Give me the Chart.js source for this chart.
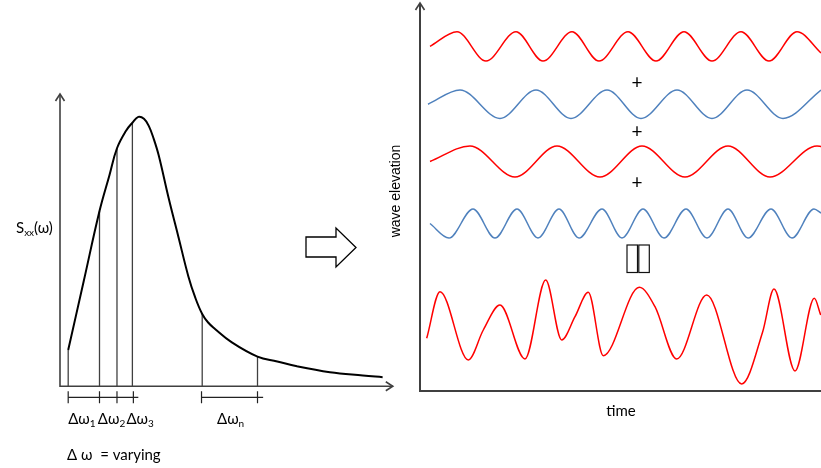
<!DOCTYPE html>
<html>
<head>
<meta charset="utf-8">
<title>Spectrum to wave elevation</title>
<script src="https://cdn.jsdelivr.net/npm/chart.js@4.4.1/dist/chart.umd.min.js"></script>
<style>
  body { margin: 0; background: #fff; }
  #wrap { position: relative; width: 821px; height: 468px; overflow: hidden; }
  canvas { position: absolute; top: 0; }
  #spectrum { left: 0; }
  #waves { left: 370px; }
</style>
</head>
<body>
<div id="wrap">
  <canvas id="spectrum" width="400" height="468"></canvas>
  <canvas id="waves" width="451" height="468"></canvas>
</div>
<script>
// Spectrum S_xx(omega)
const spectrumOmega   = [0.083, 0.24, 0.40, 0.50, 0.577, 0.667, 0.733, 0.793, 0.85, 0.90, 0.95, 1.00, 1.10, 1.20, 1.30, 1.37, 1.44, 1.50, 1.567, 1.733, 2.00, 2.20, 2.40, 2.733, 3.067, 3.267];
const spectrumDensity = [0.37, 1.07, 1.787, 2.15, 2.427, 2.603, 2.687, 2.747, 2.727, 2.653, 2.52, 2.353, 1.92, 1.52, 1.12, 0.903, 0.737, 0.65, 0.587, 0.453, 0.303, 0.253, 0.203, 0.143, 0.11, 0.093];

// band edges (vertical lines) and the curve height at each
const bandEdges = [0.083, 0.40, 0.577, 0.733, 1.44, 2.00];
const bandTops  = [0.37, 1.787, 2.427, 2.687, 0.737, 0.303];

// delta-omega brackets below the axis
const bracketLowOmega  = [0.083, 0.40, 0.577, 0.743, 0.793];
const bracketHighOmega = [1.433, 2.0, 2.057];
const bandSubs = ['1', '2', '3', 'n'];

// wave components (time, elevation about each track's mean)
const wave1Time = [1.0, 3.7, 6.6, 9.6, 12.3, 15.2, 17.9, 20.8, 23.6, 26.4, 29.2, 32.1, 34.9, 37.7, 40.1];
const wave1Elev = [0.0, 1.46, -1.47, 1.46, -1.47, 1.46, -1.47, 1.46, -1.47, 1.46, -1.47, 1.46, -1.47, 1.46, -0.67];

const wave2Time = [0.8, 4.0, 8.0, 11.6, 15.1, 18.7, 22.1, 25.7, 29.2, 32.7, 36.3, 40.1];
const wave2Elev = [0.0, 1.42, -1.42, 1.42, -1.42, 1.42, -1.42, 1.42, -1.42, 1.42, -1.42, 1.42];

const wave3Time = [1.0, 5.0, 9.5, 13.7, 18.0, 22.2, 26.5, 30.8, 35.0, 39.7, 40.1];
const wave3Elev = [0.0, 1.55, -1.55, 1.55, -1.55, 1.55, -1.55, 1.55, -1.55, 1.55, 1.5];

const wave4Time = [1.0, 2.9, 5.3, 7.5, 9.7, 11.8, 13.9, 15.9, 18.2, 20.2, 22.3, 24.4, 26.6, 28.7, 30.8, 32.8, 35.1, 37.2, 39.4, 40.1];
const wave4Elev = [0.0, -1.45, 1.45, -1.45, 1.45, -1.45, 1.45, -1.45, 1.45, -1.45, 1.45, -1.45, 1.45, -1.45, 1.45, -1.45, 1.45, -1.45, 1.45, 1.05];

// resulting irregular sea
const sumTime = [0.67, 2.0, 4.83, 6.33, 8.0, 10.5, 12.57, 14.17, 15.5, 16.83, 18.33, 21.93, 23.5, 25.67, 28.67, 32.17, 34.27, 35.4, 37.5, 39.43, 40.07];
const sumElev = [-0.63, 4.03, -2.8, 0.2, 2.7, -2.7, 5.2, -0.8, 1.53, 3.97, -2.37, 4.47, 2.53, -2.7, 3.7, -5.2, 0.03, 4.3, -3.9, 3.37, 1.7];

// layout: where each track sits on the elevation axis
const trackOffsets = [34.47, 28.68, 22.95, 16.75, 5.9];

const RED = '#ff0000';
const BLUE = '#4f81bd';
const AXIS = '#404040';
const LABEL_FONT = 'Lato, "Open Sans", sans-serif';

// draws "base" followed by a small lowered subscript, returns end x
function drawSub(ctx, base, sub, x, y, size) {
  ctx.font = size + 'px ' + LABEL_FONT;
  ctx.fillText(base, x, y);
  x += ctx.measureText(base).width;
  const small = Math.round(size * 0.68);
  ctx.font = small + 'px ' + LABEL_FONT;
  ctx.fillText(sub, x, y + 3);
  return x + ctx.measureText(sub).width;
}

function chevronUp(ctx, x, y) {
  ctx.beginPath();
  ctx.moveTo(x - 4.5, y + 7); ctx.lineTo(x, y); ctx.lineTo(x + 4.5, y + 7);
  ctx.stroke();
}

function pts(xs, ys, off) {
  return xs.map((v, i) => ({ x: v, y: ys[i] + (off || 0) }));
}

// ---------- LEFT: spectrum ----------
const spectrumDecor = {
  id: 'spectrumDecor',
  afterDatasetsDraw(chart) {
    const { ctx, chartArea, scales: { x, y } } = chart;
    const x0 = x.getPixelForValue(0);
    const y0 = y.getPixelForValue(0);
    ctx.save();
    ctx.strokeStyle = AXIS;
    ctx.lineWidth = 1.6;
    ctx.beginPath();
    ctx.moveTo(x0, chartArea.top); ctx.lineTo(x0, y0); ctx.lineTo(chartArea.right, y0);
    ctx.stroke();
    chevronUp(ctx, x0, chartArea.top);
    ctx.beginPath();
    ctx.moveTo(chartArea.right - 7, y0 - 4.5); ctx.lineTo(chartArea.right, y0); ctx.lineTo(chartArea.right - 7, y0 + 4.5);
    ctx.stroke();

    // labels
    ctx.fillStyle = '#000';
    ctx.textBaseline = 'alphabetic';
    let lx = drawSub(ctx, 'S', 'xx', 16, 232.5, 15);
    ctx.font = '15px ' + LABEL_FONT;
    ctx.fillText('(ω)', lx, 232.5);

    const labelAt = [0.083, 0.383, 0.673, 1.59];
    bandSubs.forEach((s, i) => {
      drawSub(ctx, 'Δω', s, x.getPixelForValue(labelAt[i]), 423.5, 15);
    });
    ctx.font = '15px ' + LABEL_FONT;
    ctx.fillText('Δ ω  = varying', 67, 460);

    // hollow arrow pointing to the waves
    ctx.strokeStyle = '#000';
    ctx.lineWidth = 1.3;
    ctx.beginPath();
    ctx.moveTo(306, 237); ctx.lineTo(336, 237); ctx.lineTo(336, 228);
    ctx.lineTo(356, 247.5);
    ctx.lineTo(336, 267); ctx.lineTo(336, 257); ctx.lineTo(306, 257);
    ctx.closePath();
    ctx.stroke();
    ctx.restore();
  }
};

const bandLineData = [];
bandEdges.forEach((e, i) => {
  bandLineData.push({ x: e, y: 0 }, { x: e, y: bandTops[i] }, { x: e, y: null });
});

new Chart(document.getElementById('spectrum'), {
  type: 'line',
  data: {
    datasets: [
      {
        data: pts(spectrumOmega, spectrumDensity),
        borderColor: '#000', borderWidth: 2,
        tension: 0.4, pointRadius: 0
      },
      {
        data: bandLineData,
        borderColor: AXIS, borderWidth: 1.3, pointRadius: 0, spanGaps: false
      },
      {
        data: bracketLowOmega.map(v => ({ x: v, y: -0.113 })),
        borderColor: '#222', borderWidth: 1.2,
        pointStyle: 'line', pointRotation: 90, pointBorderColor: '#222', pointBorderWidth: 1.2,
        pointRadius: [6, 6, 6, 6, 0]
      },
      {
        data: bracketHighOmega.map(v => ({ x: v, y: -0.113 })),
        borderColor: '#222', borderWidth: 1.2,
        pointStyle: 'line', pointRotation: 90, pointBorderColor: '#222', pointBorderWidth: 1.2,
        pointRadius: [6, 6, 0]
      }
    ]
  },
  options: {
    responsive: false,
    animation: false,
    devicePixelRatio: 1,
    layout: { padding: { left: 60, right: 3, top: 94, bottom: 0 } },
    plugins: { legend: { display: false }, tooltip: { enabled: false } },
    scales: {
      x: { type: 'linear', display: false, min: 0, max: 3.37 },
      y: { type: 'linear', display: false, min: -0.76, max: 2.98 }
    }
  },
  plugins: [spectrumDecor]
});

// ---------- RIGHT: wave elevation ----------
const waveDecor = {
  id: 'waveDecor',
  afterDatasetsDraw(chart) {
    const { ctx, chartArea, scales: { x, y } } = chart;
    const x0 = x.getPixelForValue(0);
    const y0 = y.getPixelForValue(0);
    ctx.save();
    ctx.strokeStyle = AXIS;
    ctx.lineWidth = 2;
    ctx.beginPath();
    ctx.moveTo(x0, chartArea.top); ctx.lineTo(x0, y0); ctx.lineTo(chartArea.right, y0);
    ctx.stroke();
    ctx.lineWidth = 1.6;
    chevronUp(ctx, x0, chartArea.top);

    ctx.fillStyle = '#000';
    ctx.textAlign = 'center';
    ctx.textBaseline = 'middle';
    ctx.font = '19px ' + LABEL_FONT;
    [30.8, 25.9, 20.8].forEach(v => ctx.fillText('+', x.getPixelForValue(21.7), y.getPixelForValue(v)));

    // the two empty glyph boxes
    ctx.strokeStyle = '#111';
    ctx.lineWidth = 1.2;
    const bx = x.getPixelForValue(20.7), by = y.getPixelForValue(14.6);
    ctx.strokeRect(bx, by, 10.5, 27.5);
    ctx.strokeRect(bx + 11.8, by, 10.5, 27.5);

    ctx.textBaseline = 'alphabetic';
    ctx.font = '15px ' + LABEL_FONT;
    ctx.fillText('time', x.getPixelForValue(20.1), 416);

    ctx.translate(26, y.getPixelForValue(20.0));
    ctx.rotate(-Math.PI / 2);
    ctx.textBaseline = 'middle';
    ctx.font = '14px "Liberation Sans", Arial, sans-serif';
    ctx.fillText('wave elevation', 0, 0);
    ctx.restore();
  }
};

const waveSets = [
  [wave1Time, wave1Elev, RED],
  [wave2Time, wave2Elev, BLUE],
  [wave3Time, wave3Elev, RED],
  [wave4Time, wave4Elev, BLUE],
  [sumTime, sumElev, RED]
];

new Chart(document.getElementById('waves'), {
  type: 'line',
  data: {
    datasets: waveSets.map((w, i) => ({
      data: pts(w[0], w[1], trackOffsets[i]),
      borderColor: w[2], borderWidth: 1.5,
      cubicInterpolationMode: 'monotone', pointRadius: 0
    }))
  },
  options: {
    responsive: false,
    animation: false,
    devicePixelRatio: 1,
    layout: { padding: { left: 50, right: 0, top: 3, bottom: 77 } },
    plugins: { legend: { display: false }, tooltip: { enabled: false } },
    scales: {
      x: { type: 'linear', display: false, min: 0, max: 40.1 },
      y: { type: 'linear', display: false, min: 0, max: 38.8 }
    }
  },
  plugins: [waveDecor]
});
</script>
</body>
</html>
